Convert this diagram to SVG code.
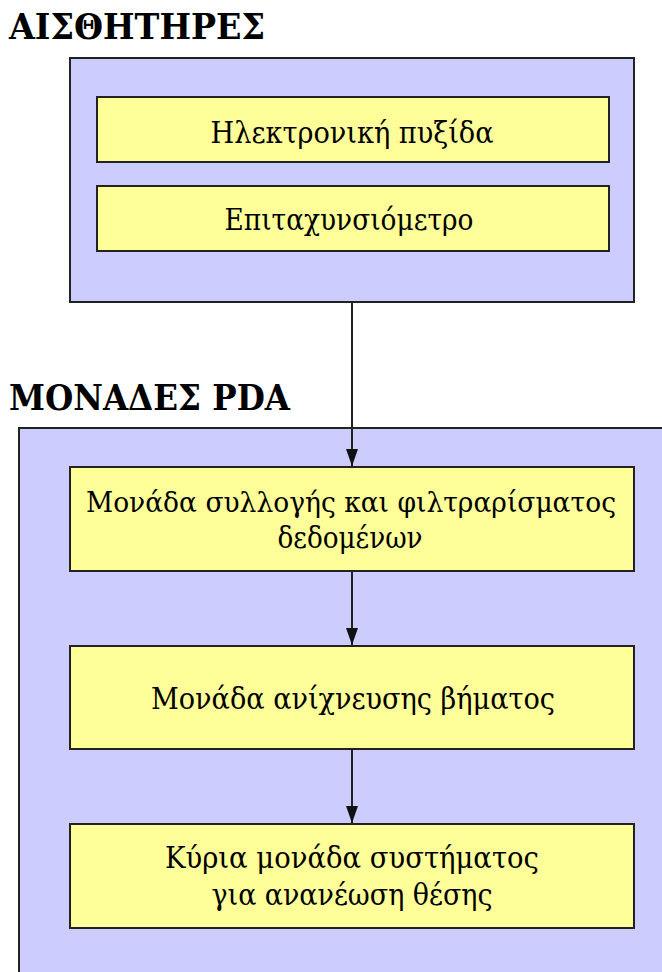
<svg xmlns="http://www.w3.org/2000/svg" width="662" height="972" viewBox="0 0 662 972">
<defs>
<style>
.grp{fill:#CCCCFF;stroke:#222;stroke-width:2}
.box{fill:#FFFF99;stroke:#222;stroke-width:2}
text{font-family:"DejaVu Serif",serif;fill:#000}
.t{font-size:30px;text-anchor:middle}
.h{font-size:35px;font-weight:bold}
.c{stroke:#222;stroke-width:2;fill:none}
</style>
<marker id="ah" markerUnits="userSpaceOnUse" markerWidth="18" markerHeight="14" refX="17" refY="7" orient="auto" viewBox="0 0 18 14">
<path d="M0,1 L17,7 L0,13 Z" fill="#111"/>
</marker>
</defs>
<rect width="662" height="972" fill="#fff"/>
<g id="sensors">
<text class="h" x="9" y="39" textLength="256" lengthAdjust="spacingAndGlyphs">ΑΙΣΘΗΤΗΡΕΣ</text>
<rect class="grp" x="70" y="58" width="564" height="244"/>
</g>
<g id="compass">
<rect class="box" x="97" y="97" width="512" height="65"/>
<text class="t" x="352" y="143" textLength="283" lengthAdjust="spacingAndGlyphs">Ηλεκτρονική πυξίδα</text>
</g>
<g id="accelerometer">
<rect class="box" x="97" y="186" width="512" height="65"/>
<text class="t" x="349" y="230" textLength="249" lengthAdjust="spacingAndGlyphs">Επιταχυνσιόμετρο</text>
</g>
<g id="pda">
<text class="h" x="9" y="410" textLength="281" lengthAdjust="spacingAndGlyphs">ΜΟΝΑΔΕΣ PDA</text>
<rect class="grp" x="19" y="428" width="700" height="600"/>
</g>
<g id="collect">
<rect class="box" x="70" y="467" width="564" height="104"/>
<text class="t" x="351" y="512" font-size="28" style="font-size:28px" textLength="530" lengthAdjust="spacingAndGlyphs">Μονάδα συλλογής και φιλτραρίσματος</text>
<text class="t" x="350" y="548" textLength="145" lengthAdjust="spacingAndGlyphs">δεδομένων</text>
</g>
<g id="step">
<rect class="box" x="70" y="646" width="564" height="103"/>
<text class="t" x="353" y="709" textLength="404" lengthAdjust="spacingAndGlyphs">Μονάδα ανίχνευσης βήματος</text>
</g>
<g id="main">
<rect class="box" x="70" y="824" width="564" height="104"/>
<text class="t" x="352" y="868" textLength="374" lengthAdjust="spacingAndGlyphs">Κύρια μονάδα συστήματος</text>
<text class="t" x="352" y="905" textLength="281" lengthAdjust="spacingAndGlyphs">για ανανέωση θέσης</text>
</g>
<g id="connectors">
<line class="c" x1="352" y1="302" x2="352" y2="466" marker-end="url(#ah)"/>
<line class="c" x1="352" y1="571" x2="352" y2="645" marker-end="url(#ah)"/>
<line class="c" x1="352" y1="749" x2="352" y2="823" marker-end="url(#ah)"/>
</g>
</svg>
